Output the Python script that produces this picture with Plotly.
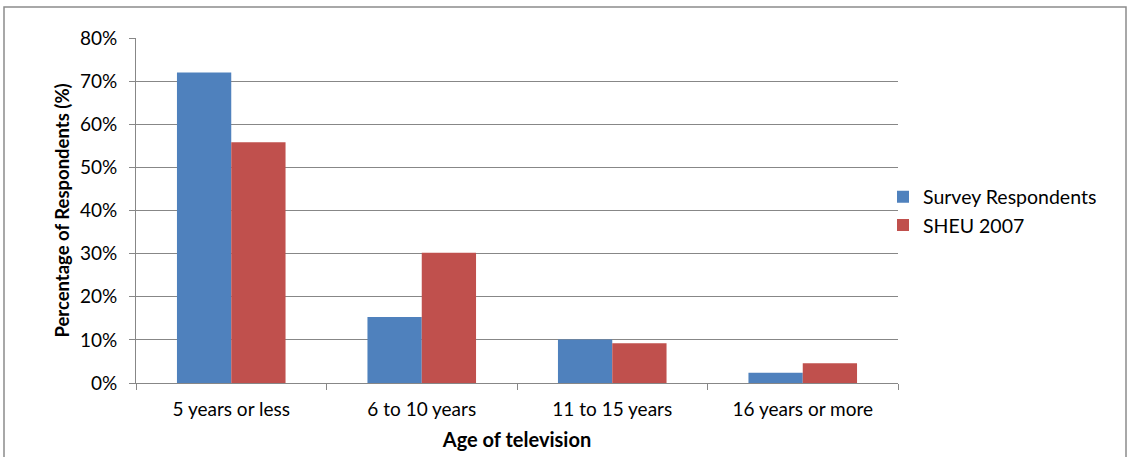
import plotly.graph_objects as go

categories = ["5 years or less", "6 to 10 years", "11 to 15 years", "16 years or more"]
survey_respondents = [72.0, 15.3, 10.1, 2.4]
sheu_2007 = [55.8, 30.2, 9.2, 4.6]
y_ticks = [0, 10, 20, 30, 40, 50, 60, 70, 80]
y_tick_labels = [f"{v}%" for v in y_ticks]

W, H = 1130, 457
L, R, T, B = 136, 232, 38, 74
PW, PH = W - L - R, H - T - B
FONT = "Lato"
GRAY = "#878787"

fig = go.Figure()
fig.add_trace(go.Bar(x=categories, y=survey_respondents, name="Survey Respondents",
                     marker=dict(color="#4F81BD", line=dict(width=0))))
fig.add_trace(go.Bar(x=categories, y=sheu_2007, name="SHEU 2007",
                     marker=dict(color="#C0504D", line=dict(width=0))))

fig.update_layout(
    width=W, height=H, autosize=False,
    margin=dict(l=L, r=R, t=T, b=B, pad=0),
    paper_bgcolor="white", plot_bgcolor="white",
    barmode="group", bargap=0.43, bargroupgap=0,
    font=dict(family=FONT, size=19, color="#000000"),
    legend=dict(x=(883 - L) / PW, y=(H - B - 211) / PH, xanchor="left", yanchor="middle",
                font=dict(family=FONT, size=19.5), itemsizing="constant",
                bgcolor="rgba(0,0,0,0)"),
    xaxis=dict(automargin=False, showline=True, linecolor=GRAY, linewidth=1,
               ticks="outside", tickson="boundaries", ticklen=6, tickcolor=GRAY,
               ticklabelstandoff=9,
               tickfont=dict(family=FONT, size=19),
               title=dict(text="<b>Age of television</b>", font=dict(family=FONT, size=20), standoff=14)),
    yaxis=dict(automargin=False, range=[0, 80], tickmode="array", tickvals=y_ticks, ticktext=y_tick_labels,
               showline=True, linecolor=GRAY, linewidth=1,
               showgrid=True, gridcolor=GRAY, gridwidth=1, zeroline=False,
               ticks="outside", ticklen=6, tickcolor=GRAY, ticklabelstandoff=8,
               tickfont=dict(family=FONT, size=19),
               title=dict(text="<b>Percentage of Respondents (%)</b>", font=dict(family=FONT, size=18.5), standoff=5)),
    shapes=[dict(type="rect", xref="paper", yref="paper",
                 x0=(4 - L) / PW, x1=(1126 - L) / PW, y0=(H - B - 470) / PH, y1=(H - B - 7) / PH,
                 line=dict(color="#8C8C8C", width=1.5), fillcolor="rgba(0,0,0,0)", layer="below")],
)

fig.write_html("out.html", config={"responsive": False, "displayModeBar": False},
               post_script="document.body.style.margin='0';")
